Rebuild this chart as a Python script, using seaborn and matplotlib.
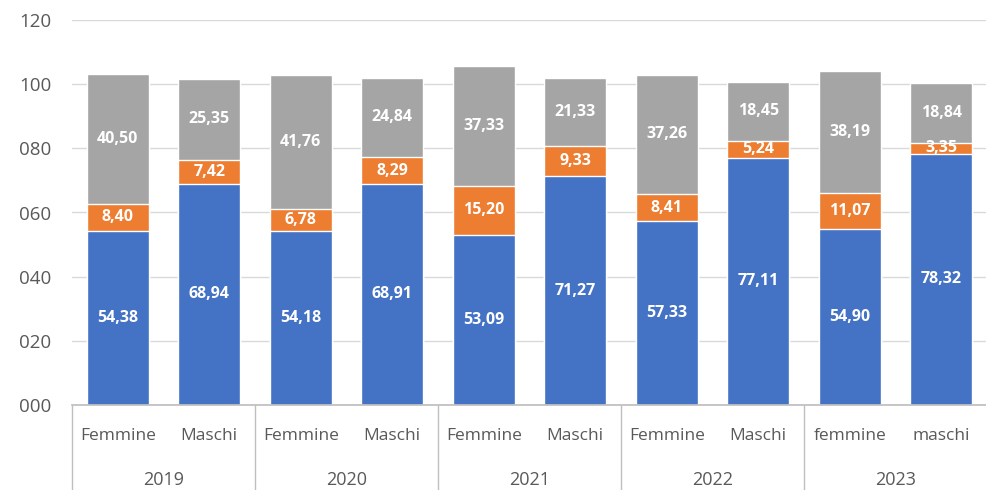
import numpy as np
import pandas as pd
import matplotlib
matplotlib.use("Agg")
import matplotlib.pyplot as plt
import matplotlib.transforms as mtrans
import seaborn as sns

years = ["2019", "2020", "2021", "2022", "2023"]
categories = ["Femmine", "Maschi", "Femmine", "Maschi", "Femmine", "Maschi",
              "Femmine", "Maschi", "femmine", "maschi"]
blue_vals = [54.38, 68.94, 54.18, 68.91, 53.09, 71.27, 57.33, 77.11, 54.90, 78.32]
orange_vals = [8.40, 7.42, 6.78, 8.29, 15.20, 9.33, 8.41, 5.24, 11.07, 3.35]
gray_vals = [40.50, 25.35, 41.76, 24.84, 37.33, 21.33, 37.26, 18.45, 38.19, 18.84]

BLUE, ORANGE, GRAY = "#4472C4", "#ED7D31", "#A5A5A5"
TXT = "#595959"

sns.set_theme(style="white")
plt.rcParams['font.family'] = ['Open Sans', 'DejaVu Sans']

df = pd.DataFrame({
    "pos": [str(i) for i in range(len(categories))],
    "blue": blue_vals, "orange": orange_vals, "gray": gray_vals,
})
df["top_orange"] = df["blue"] + df["orange"]
df["total"] = df["top_orange"] + df["gray"]

fig = plt.figure(figsize=(9.87, 4.9), dpi=100)
ax = fig.add_axes([72 / 987, 1 - 405 / 490, 915 / 987, 385 / 490])

width = 0.68
sns.barplot(data=df, x="pos", y="total", color=GRAY, saturation=1, width=width, ax=ax, zorder=2)
sns.barplot(data=df, x="pos", y="top_orange", color=ORANGE, saturation=1, width=width, ax=ax, zorder=3)
sns.barplot(data=df, x="pos", y="blue", color=BLUE, saturation=1, width=width, ax=ax, zorder=4)

def fmt(v):
    return f"{v:.2f}".replace(".", ",")

for i, r in df.iterrows():
    for lo, val in [(0, r["blue"]), (r["blue"], r["orange"]), (r["top_orange"], r["gray"])]:
        ax.text(i, lo + val / 2, fmt(val), ha="center", va="center", color="white",
                fontsize=11.5, fontweight="bold", zorder=6)

ax.set_xlim(-0.5, len(categories) - 0.5)
ax.set_ylim(0, 120)
ax.set_yticks(np.arange(0, 121, 20))
ax.set_yticklabels([f"{v:03d}" for v in range(0, 121, 20)], color=TXT, fontsize=13.5)
ax.yaxis.grid(True, color="#D9D9D9", linewidth=1)
ax.set_axisbelow(True)
ax.tick_params(axis="y", length=0, pad=15)
ax.set_xticks(range(len(categories)))
ax.set_xticklabels([])
ax.tick_params(axis="x", length=0)
ax.set_xlabel("")
ax.set_ylabel("")
for s in ["top", "right", "left"]:
    ax.spines[s].set_visible(False)
ax.spines["bottom"].set_color("#BFBFBF")
ax.spines["bottom"].set_zorder(5)

trans = mtrans.blended_transform_factory(ax.transData, ax.transAxes)
for i, c in enumerate(categories):
    ax.text(i, -31 / 385, c, transform=trans, ha="center", va="center",
            color=TXT, fontsize=12.5, clip_on=False)
for g, y in enumerate(years):
    ax.text(2 * g + 0.5, -75 / 385, y, transform=trans, ha="center", va="center",
            color=TXT, fontsize=13, clip_on=False)
for xs in np.arange(-0.5, len(categories), 2):
    ax.plot([xs, xs], [0, -85 / 385], transform=trans, color="#BFBFBF",
            linewidth=1, clip_on=False)

fig.savefig("out.png", dpi=100)
